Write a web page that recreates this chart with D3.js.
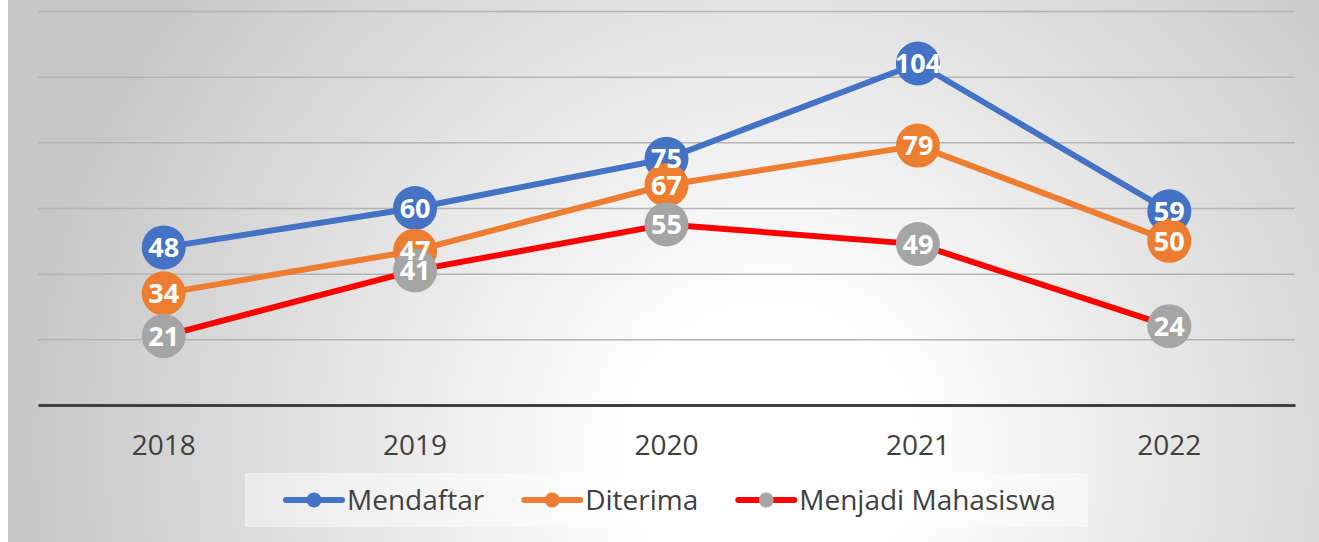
<!DOCTYPE html>
<html>
<head>
<meta charset="utf-8">
<script src="https://cdn.jsdelivr.net/npm/d3@7.9.0/dist/d3.min.js"></script>
<style>
  html, body { margin: 0; padding: 0; background: #fff; }
  svg { display: block; font-family: "Open Sans", "Noto Sans", sans-serif; }
</style>
</head>
<body>
<svg id="chart" width="1319" height="542"></svg>
<script>
// chart data
const years = ['2018', '2019', '2020', '2021', '2022'];
const mendaftar = [48, 60, 75, 104, 59];
const diterima = [34, 47, 67, 79, 50];
const menjadiMahasiswa = [21, 41, 55, 49, 24];
const seriesNames = ['Mendaftar', 'Diterima', 'Menjadi Mahasiswa'];
const yTicks = [0, 20, 40, 60, 80, 100, 120];

const series = [
    { name: seriesNames[0], values: mendaftar, line: '#4472C4', marker: '#4472C4' },
    { name: seriesNames[1], values: diterima, line: '#ED7D31', marker: '#ED7D31' },
    { name: seriesNames[2], values: menjadiMahasiswa, line: '#FF0000', marker: '#A5A5A5' },
];

const width = 1319;
const height = 542;
const plot = { left: 38, right: 1295, top: 11, bottom: 405 };

const svg = d3.select('#chart');

// background gradient
const defs = svg.append('defs');
const grad = defs.append('radialGradient')
    .attr('id', 'bg')
    .attr('gradientUnits', 'userSpaceOnUse')
    .attr('cx', 770).attr('cy', 450).attr('r', 760);
grad.append('stop').attr('offset', '0').attr('stop-color', '#ffffff');
grad.append('stop').attr('offset', '0.18').attr('stop-color', '#ffffff');
grad.append('stop').attr('offset', '1').attr('stop-color', '#c6c6c6');

svg.append('rect')
    .attr('x', 8).attr('y', 0)
    .attr('width', width - 8).attr('height', height)
    .attr('fill', 'url(#bg)');

const x = d3.scaleBand()
    .domain(years)
    .range([plot.left, plot.right]);

const y = d3.scaleLinear()
    .domain([0, 120])
    .range([plot.bottom, plot.top]);

const cx = (d) => x(d) + x.bandwidth() / 2;

// gridlines
const grid = svg.append('g')
    .attr('transform', `translate(${plot.left},0)`)
    .call(d3.axisLeft(y).tickValues(yTicks.slice(1)).tickFormat('').tickSize(-(plot.right - plot.left)));
grid.select('.domain').remove();
grid.selectAll('line')
    .attr('stroke', '#b4b4b4')
    .attr('stroke-width', 1.5);

// x axis
const xAxis = svg.append('g')
    .attr('transform', `translate(0,${plot.bottom})`)
    .call(d3.axisBottom(x).tickSize(0).tickPadding(30));
xAxis.select('.domain')
    .attr('stroke', '#404040')
    .attr('stroke-width', 3);
xAxis.selectAll('text')
    .attr('fill', '#404040')
    .style('font-size', '28px')
    .style('font-family', '"Open Sans", sans-serif');

// lines and markers
const line = d3.line()
    .x((d, i) => cx(years[i]))
    .y((d) => y(d));

series.forEach((s) => {
    const g = svg.append('g');
    g.append('path')
        .datum(s.values)
        .attr('d', line)
        .attr('fill', 'none')
        .attr('stroke', s.line)
        .attr('stroke-width', 6)
        .attr('stroke-linejoin', 'round');
    g.selectAll('circle')
        .data(s.values)
        .join('circle')
        .attr('cx', (d, i) => cx(years[i]))
        .attr('cy', (d) => y(d))
        .attr('r', 22)
        .attr('fill', s.marker);
});

// data labels on top
series.forEach((s) => {
    svg.append('g')
        .selectAll('text')
        .data(s.values)
        .join('text')
        .attr('x', (d, i) => cx(years[i]))
        .attr('y', (d) => y(d))
        .attr('dy', '0.36em')
        .attr('text-anchor', 'middle')
        .attr('fill', '#ffffff')
        .style('font-size', '27px')
        .style('font-weight', 'bold')
        .text((d) => d);
});

// legend
svg.append('rect')
    .attr('x', 245).attr('y', 473)
    .attr('width', 843).attr('height', 54)
    .attr('fill', '#ffffff')
    .attr('fill-opacity', 0.45);

const legend = svg.append('g');
let lx = 286;
const ly = 500;
series.forEach((s) => {
    const item = legend.append('g');
    item.append('line')
        .attr('x1', lx).attr('x2', lx + 56)
        .attr('y1', ly).attr('y2', ly)
        .attr('stroke', s.line)
        .attr('stroke-width', 6)
        .attr('stroke-linecap', 'round');
    item.append('circle')
        .attr('cx', lx + 28).attr('cy', ly)
        .attr('r', 7.5)
        .attr('fill', s.marker);
    const t = item.append('text')
        .attr('x', lx + 61)
        .attr('y', ly)
        .attr('dy', '0.36em')
        .attr('fill', '#404040')
        .style('font-size', '28px')
        .text(s.name);
    lx = lx + 61 + t.node().getComputedTextLength() + 40;
});
</script>
</body>
</html>
